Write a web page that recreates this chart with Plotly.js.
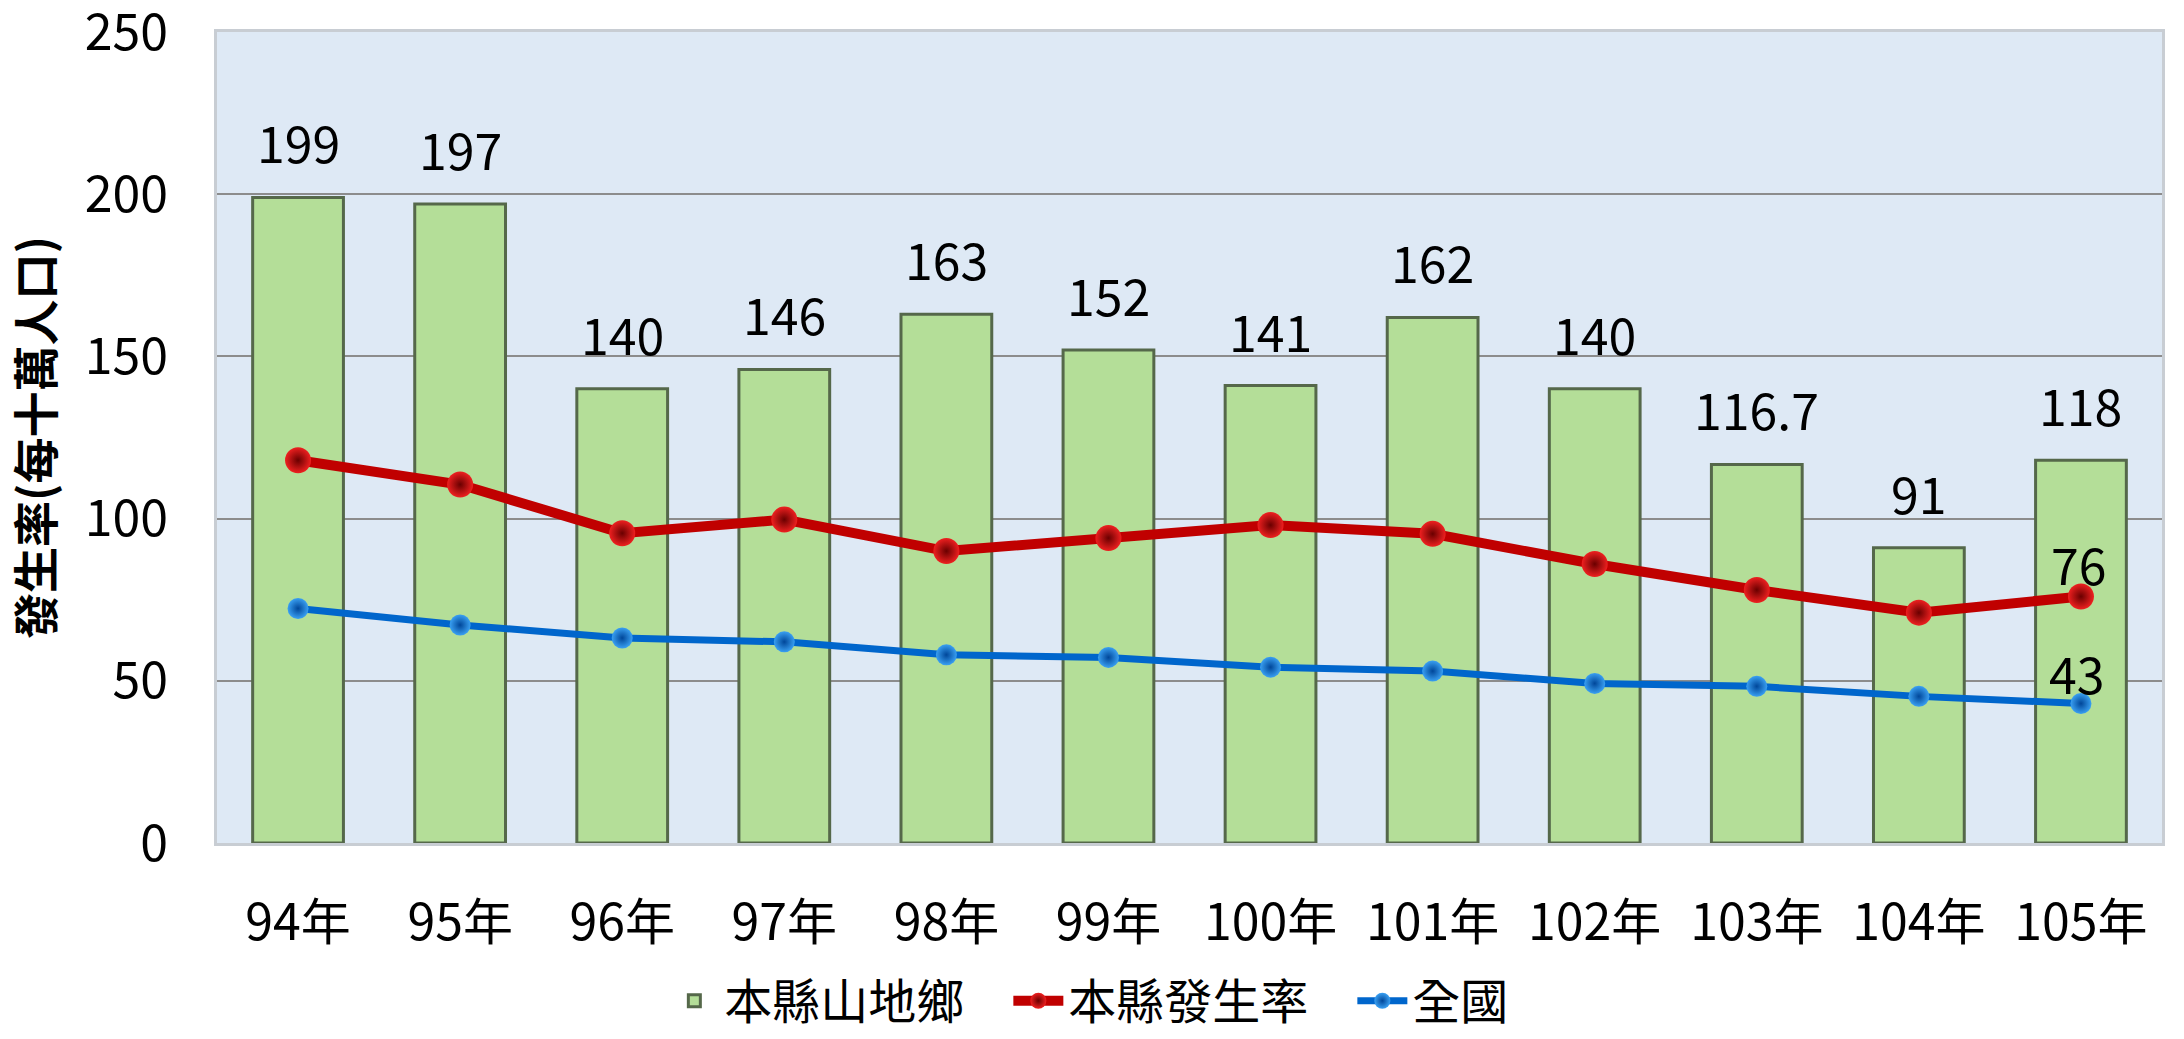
<!DOCTYPE html>
<html>
<head>
<meta charset="utf-8">
<script src="https://cdn.plot.ly/plotly-3.0.1.min.js"></script>
<style>
  html, body { margin: 0; padding: 0; background: #ffffff; }
  #chart { width: 2184px; height: 1039px; }
</style>
</head>
<body>
<div id="chart"></div>
<script>
const years = ["94年", "95年", "96年", "97年", "98年", "99年", "100年", "101年", "102年", "103年", "104年", "105年"];
const mountainTownships = [199, 197, 140, 146, 163, 152, 141, 162, 140, 116.7, 91, 118];
const countyRate = [118, 110.5, 95.5, 99.7, 90, 94, 98, 95.3, 86, 78, 71, 76];
const nationalRate = [72.3, 67.2, 63.2, 62, 58, 57.2, 54.2, 53, 49.2, 48.3, 45.2, 43];
const seriesNames = ["本縣山地鄉", "本縣發生率", "全國"];
const yTitle = "發生率(每十萬人口)";
const yTicks = [0, 50, 100, 150, 200, 250];

const FONT = '"Noto Sans CJK TC", "Noto Sans CJK SC", "Noto Sans", sans-serif';

const traces = [
  {
    type: 'bar',
    name: seriesNames[0],
    x: years,
    y: mountainTownships,
    marker: {
      color: '#b4de98',
      line: { color: '#55684a', width: 3 }
    },
    hoverinfo: 'skip'
  },
  {
    type: 'scatter',
    mode: 'lines+markers',
    name: seriesNames[1],
    x: years,
    y: countyRate,
    line: { color: '#c00000', width: 10 },
    marker: {
      size: 26,
      color: '#ee2020',
      gradient: { type: 'radial', color: '#6a0000' },
      line: { width: 0 }
    },
    hoverinfo: 'skip'
  },
  {
    type: 'scatter',
    mode: 'lines+markers',
    name: seriesNames[2],
    x: years,
    y: nationalRate,
    line: { color: '#0066cc', width: 7 },
    marker: {
      size: 21,
      color: '#3aa0f2',
      gradient: { type: 'radial', color: '#00479a' },
      line: { width: 0 }
    },
    hoverinfo: 'skip'
  }
];

const annotations = [];
years.forEach((yr, i) => {
  annotations.push({
    x: yr, y: mountainTownships[i], xref: 'x', yref: 'y',
    text: String(mountainTownships[i]),
    showarrow: false, yanchor: 'bottom', yshift: 18,
    font: { family: FONT, size: 50, color: '#000000' }
  });
});
const last = years.length - 1;
annotations.push({
  x: years[last], y: countyRate[last], xref: 'x', yref: 'y',
  text: String(countyRate[last]),
  showarrow: false, yanchor: 'bottom', yshift: -5, xshift: -2,
  font: { family: FONT, size: 50, color: '#000000' }
});
annotations.push({
  x: years[last], y: nationalRate[last], xref: 'x', yref: 'y',
  text: String(nationalRate[last]),
  showarrow: false, yanchor: 'bottom', yshift: -6, xshift: -4,
  font: { family: FONT, size: 50, color: '#000000' }
});

const layout = {
  width: 2184,
  height: 1039,
  margin: { l: 217, r: 22, t: 32, b: 196, autoexpand: false },
  paper_bgcolor: '#ffffff',
  plot_bgcolor: '#dee9f5',
  font: { family: FONT, size: 48, color: '#000000' },
  bargap: 0.44,
  showlegend: true,
  legend: {
    orientation: 'h',
    x: 0.23, xanchor: 'left',
    y: -0.2417, yanchor: 'bottom',
    font: { family: FONT, size: 48, color: '#000000' },
    itemwidth: 50,
    entrywidth: 279, entrywidthmode: 'pixels',
    traceorder: 'normal',
    bgcolor: 'rgba(0,0,0,0)'
  },
  xaxis: {
    type: 'category',
    range: [-0.5, 11.5],
    tickfont: { family: FONT, size: 50, color: '#000000' },
    ticks: 'outside', ticklen: 34, tickcolor: 'rgba(0,0,0,0)',
    showgrid: false,
    showline: true, linecolor: '#c8cdd3', linewidth: 3, mirror: true,
    fixedrange: true
  },
  yaxis: {
    range: [0, 250.001],
    tickvals: yTicks,
    ticktext: yTicks.map(String),
    tickfont: { family: FONT, size: 50, color: '#000000' },
    ticklabeloverflow: 'allow',
    ticks: 'outside', ticklen: 36, tickcolor: 'rgba(0,0,0,0)',
    showgrid: true, gridcolor: '#8c8c8c', gridwidth: 2,
    zeroline: false,
    showline: true, linecolor: '#c8cdd3', linewidth: 3, mirror: true,
    title: {
      text: yTitle,
      font: { family: FONT, size: 46, color: '#000000', weight: 'bold' },
      standoff: 30
    },
    fixedrange: true
  },
  annotations: annotations
};

Plotly.newPlot('chart', traces, layout, { displayModeBar: false, staticPlot: true });
</script>
</body>
</html>
